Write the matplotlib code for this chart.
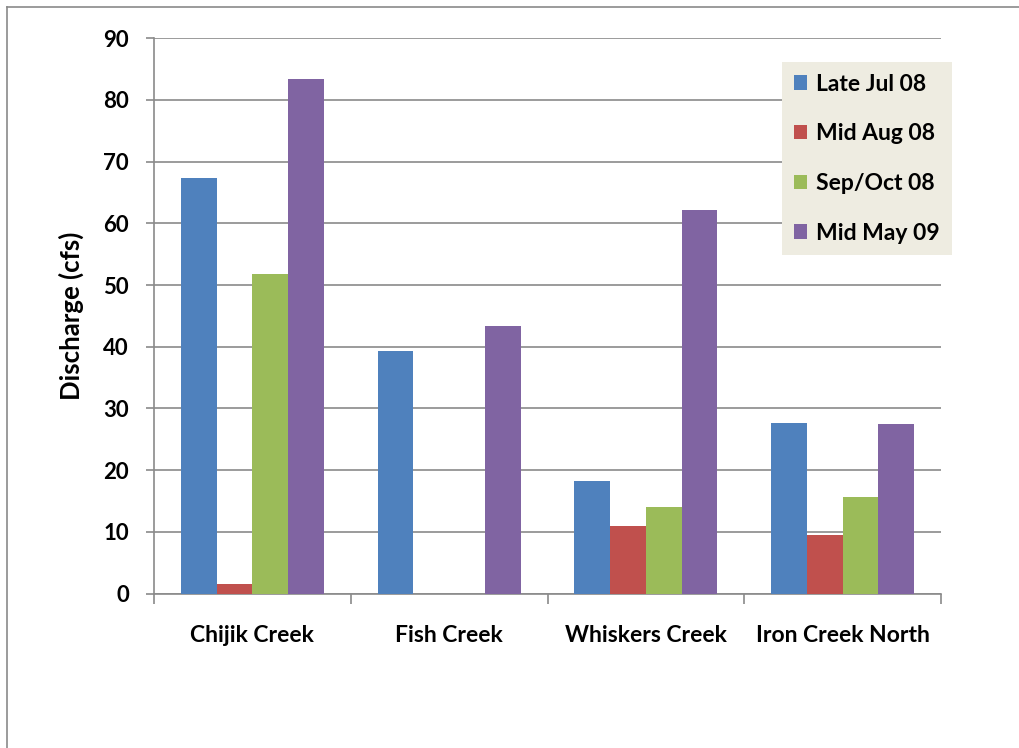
import numpy as np
import matplotlib
matplotlib.use("Agg")
import matplotlib.pyplot as plt
from matplotlib.lines import Line2D

plt.rcParams['font.family'] = ['Lato', 'DejaVu Sans']
plt.rcParams['font.weight'] = 'bold'
plt.rcParams['axes.labelweight'] = 'bold'

# Caudal por arroyo y fecha de medición
creeks = ['Chijik Creek', 'Fish Creek', 'Whiskers Creek', 'Iron Creek North']
series_names = ['Late Jul 08', 'Mid Aug 08', 'Sep/Oct 08', 'Mid May 09']
late_jul_08 = [67.3, 39.3, 18.2, 27.6]
mid_aug_08 = [1.6, 0.0, 10.9, 9.5]
sep_oct_08 = [51.8, 0.0, 14.1, 15.6]
mid_may_09 = [83.4, 43.4, 62.2, 27.4]
colors = ['#4F81BD', '#C0504D', '#9BBB59', '#8064A2']

series = [late_jul_08, mid_aug_08, sep_oct_08, mid_may_09]

fig = plt.figure(figsize=(10.19, 7.48), dpi=100)
ax = fig.add_axes([0.1511, 0.2065, 0.7724, 0.7423])

x = np.arange(len(creeks))
width = 1 / 5.5
for i, (vals, name, c) in enumerate(zip(series, series_names, colors)):
    offs = (i - 1.5) * width
    ax.bar(x + offs, vals, width=width, color=c, label=name, zorder=3)

ax.set_xlim(-0.5, len(creeks) - 0.5)
ax.set_ylim(0, 90)
ax.set_yticks(range(0, 91, 10))
ax.yaxis.grid(True, color='#8a8a8a', linewidth=1.2, zorder=0)

# ticks en los límites de categoría, etiquetas centradas
ax.set_xticks(np.arange(-0.5, len(creeks)), minor=False)
ax.set_xticklabels([])
ax.set_xticks(x, minor=True)
ax.set_xticklabels(creeks, minor=True, fontsize=16.5)
ax.tick_params(axis='x', which='major', length=7, color='#8a8a8a', width=1.2, direction='out')
ax.tick_params(axis='x', which='minor', length=0, pad=23)
ax.tick_params(axis='y', length=6, color='#8a8a8a', width=1.2, labelsize=16, pad=12)

for side in ['top', 'right']:
    ax.spines[side].set_visible(False)
for side in ['left', 'bottom']:
    ax.spines[side].set_color('#8a8a8a')
    ax.spines[side].set_linewidth(1.2)

ax.set_ylabel('Discharge (cfs)', fontsize=18.5, labelpad=14)

leg = ax.legend(loc='upper left', bbox_to_anchor=(0.798, 0.957), borderaxespad=0,
                fontsize=16.5, frameon=True, fancybox=False,
                handlelength=0.6, handleheight=0.6, handletextpad=0.4,
                labelspacing=1.25, borderpad=0.5)
leg.get_frame().set_facecolor('#EEECE1')
leg.get_frame().set_edgecolor('none')
leg.get_frame().set_alpha(1)

# marco exterior del gráfico
fig.add_artist(Line2D([7 / 1019, 1], [1 - 7 / 748, 1 - 7 / 748], color='#8a8a8a', linewidth=1.2))
fig.add_artist(Line2D([7 / 1019, 7 / 1019], [0, 1 - 7 / 748], color='#8a8a8a', linewidth=1.2))

fig.savefig('out.png', dpi=100)
